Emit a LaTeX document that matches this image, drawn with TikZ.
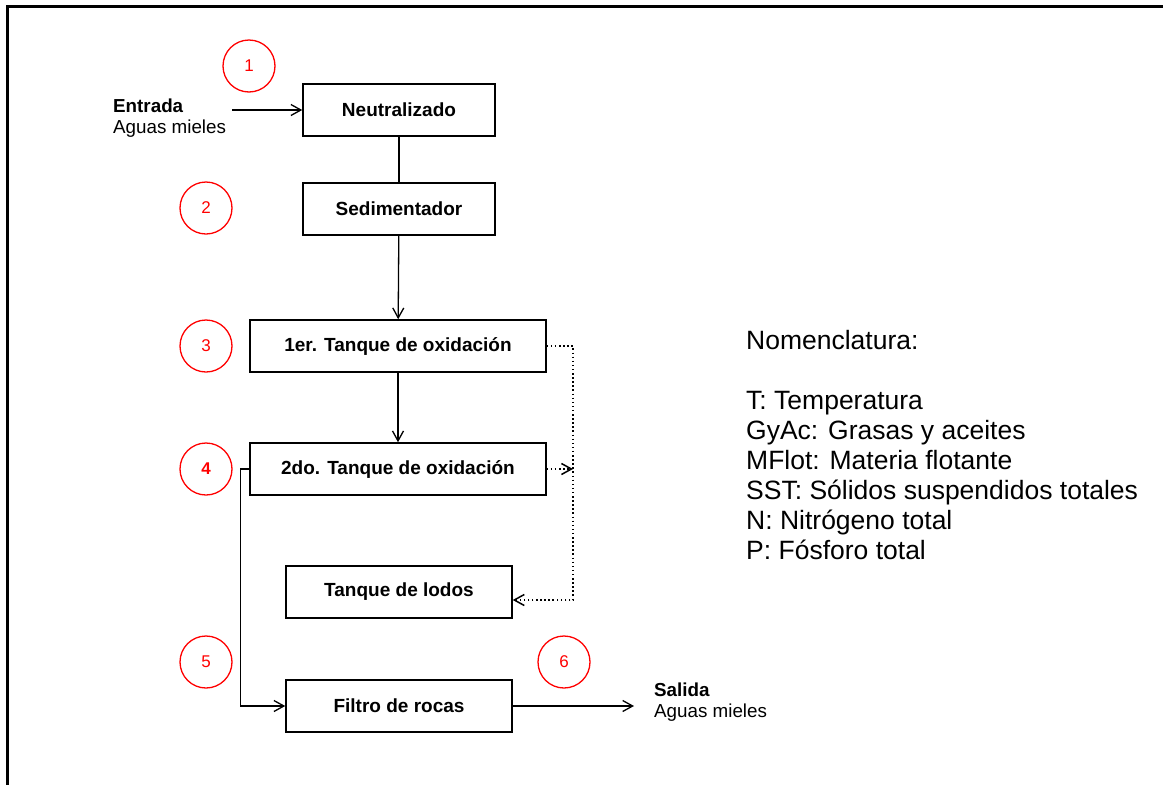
\documentclass[tikz,border=0pt]{standalone}
\usepackage{fontspec}
\setmainfont{Liberation Sans}
\usetikzlibrary{arrows.meta}
\tikzset{
    caja/.style={draw, line width=1.5pt, minimum height=52pt, inner sep=0pt, font=\bfseries\fontsize{19}{22}\selectfont}, % cajas del proceso
    paso/.style={circle, draw=red, text=red, line width=1.3pt, minimum size=52pt, inner sep=0pt, font=\fontsize{17}{20}\selectfont}, % puntos de muestreo
    flecha/.style={line width=1.3pt, -{Straight Barb[length=10pt, width=11pt]}},
    punteado/.style={line width=1.5pt, dash pattern=on 1.5pt off 2.6pt}
}
\begin{document}
\begin{tikzpicture}[x=1pt, y=-1pt]
            \useasboundingbox (0,0) rectangle (1163,785);
            \draw[line width=3pt] (7.5,785) -- (7.5,6) -- (1163,6);

            % cajas
            \node[caja, minimum width=192pt] (neut) at (399,110) {Neutralizado};
            \node[caja, minimum width=192pt] (sedi) at (399,209) {Sedimentador};
            \node[caja, minimum width=296pt] (tanq1) at (398,346) {1er. Tanque de oxidaci\'on};
            \node[caja, minimum width=296pt] (tanq2) at (398,469) {2do. Tanque de oxidaci\'on};
            \node[caja, minimum width=226pt] (lodos) at (399,592) {Tanque de lodos};
            \node[caja, minimum width=226pt] (filtro) at (399,706) {Filtro de rocas};

            % circulos
            \node[paso] (p1) at (249,66) {1};
            \node[paso] (p2) at (206,208) {2};
            \node[paso] (p3) at (206,346) {3};
            \node[paso, font=\bfseries\fontsize{17}{20}\selectfont] (p4) at (206,469) {4};
            \node[paso] (p5) at (206,662) {5};
            \node[paso] (p6) at (564,662) {6};

            % entrada y salida
            \node[anchor=north west, inner sep=0pt, align=left, font=\fontsize{18.8}{21}\selectfont] (ent) at (113,98.3) {\textbf{Entrada}\\Aguas mieles};
            \node[anchor=north west, inner sep=0pt, align=left, font=\fontsize{18.8}{20.5}\selectfont] (sal) at (654,683) {\textbf{Salida}\\Aguas mieles};
            \coordinate (entin) at (232,110);
            \coordinate (salout) at (634,706);
            \coordinate (lodin) at (573,600);

            % conexiones
            \draw[flecha] (entin) -- (neut);
            \draw[line width=1.3pt] (neut) -- (sedi);
            \draw[flecha] (sedi) -- (tanq1);
            \draw[flecha] (tanq1) -- (tanq2);
            \draw[flecha] (tanq2.west) -- ++(-9,0) |- (filtro.west);
            \draw[flecha] (filtro.east) -- (salout);
            \draw[punteado, -{Straight Barb[length=10pt, width=11pt]}] (tanq1.east) -| (lodin) -- (lodos.east |- lodin);
            \draw[punteado, -{Straight Barb[length=10pt, width=11pt]}] (tanq2.east) -- (tanq2.east -| lodin);

            % nomenclatura
            \node[anchor=north west, inner sep=0pt, align=left, font=\fontsize{26.5}{30}\selectfont] (nom) at (746,330) {Nomenclatura:\\[30pt]
                T: Temperatura\\GyAc: Grasas y aceites\\MFlot: Materia flotante\\SST: S\'olidos suspendidos totales\\N: Nitr\'ogeno total\\P: F\'osforo total};
\end{tikzpicture}
\end{document}
